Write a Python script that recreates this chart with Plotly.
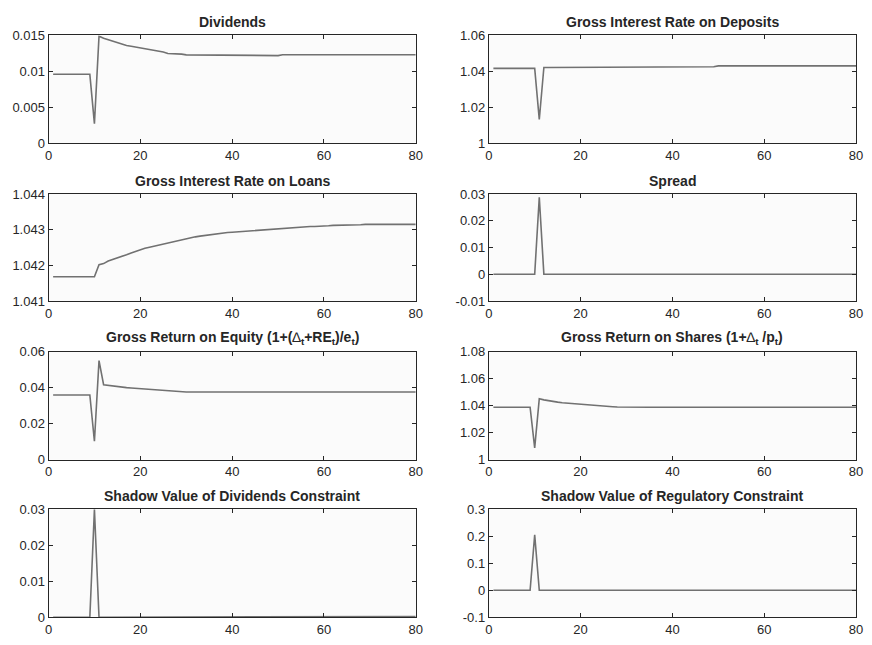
import plotly.graph_objects as go

t = list(range(1, 81))

dividends = ([0.0096] * 9 + [0.00275, 0.0149, 0.0146, 0.0144, 0.0142, 0.0140, 0.0137, 0.0136,
             0.0135, 0.0134, 0.0133, 0.0132, 0.0130, 0.0129, 0.0128, 0.0127, 0.0125, 0.0125,
             0.0124, 0.0124, 0.0123, 0.0123, 0.0122] + [0.0122] * 18 + [0.01232] * 30)

deposits = [1.0417] * 10 + [1.0133] + [1.0422] * 10 + [1.0426] * 28 + [1.0431] * 31

loans = ([1.04168] * 10 +
         [1.04202, 1.04205, 1.04212, 1.04216, 1.04221, 1.04226, 1.04230, 1.04235, 1.04240, 1.04244,
          1.04248, 1.04251, 1.04254, 1.04257, 1.04261, 1.04264, 1.04267, 1.04270, 1.04272, 1.04275,
          1.04277, 1.04280, 1.04282, 1.04284, 1.04286, 1.04288, 1.04290, 1.04291, 1.04292, 1.04293,
          1.04294, 1.04295, 1.04296, 1.04297, 1.04298, 1.04299, 1.04300, 1.04302, 1.04303, 1.04304,
          1.04305, 1.04305, 1.04306, 1.04307, 1.04307, 1.04308, 1.04309, 1.04309, 1.04309, 1.04310,
          1.04311, 1.04312, 1.04312, 1.04313, 1.04313, 1.04313, 1.04314, 1.04314, 1.04315]
         + [1.04315] * 11)

spread = [0.0] * 10 + [0.0288] + [0.0] * 69

equity = ([0.0359] * 9 +
          [0.0102, 0.0550, 0.0416, 0.0412, 0.0410, 0.0407, 0.0403, 0.0400, 0.0398, 0.0396, 0.0393,
           0.0391, 0.0390, 0.0388, 0.0386, 0.0384, 0.0382, 0.0380, 0.0379, 0.0378]
          + [0.0376] * 51)

shares = ([1.0388] * 9 +
          [1.0087, 1.0451, 1.0443, 1.0436, 1.0429, 1.0426, 1.0422, 1.0419, 1.0416, 1.0413, 1.0410,
           1.0406, 1.0402, 1.0401, 1.0399, 1.0396, 1.0394, 1.0392, 1.0390, 1.0389]
          + [1.0388] * 51)

shadow_div = [0.0] * 9 + [0.030] + [0.0] * 21 + [0.0002] * 49

shadow_reg = [0.0] * 9 + [0.205] + [0.0] * 70

titles = ["Dividends", "Gross Interest Rate on Deposits",
          "Gross Interest Rate on Loans", "Spread",
          "Gross Return on Equity (1+(<span style='font-weight:normal'>∆</span><sub>t</sub>+RE<sub>t</sub>)/e<sub>t</sub>)",
          "Gross Return on Shares (1+<span style='font-weight:normal'>∆</span><sub>t</sub> /p<sub>t</sub>)",
          "Shadow Value of Dividends Constraint", "Shadow Value of Regulatory Constraint"]
series = [dividends, deposits, loans, spread, equity, shares, shadow_div, shadow_reg]
y_ranges = [[0, 0.015], [1, 1.06], [1.041, 1.044], [-0.01, 0.03],
            [0, 0.06], [1, 1.08], [0, 0.03], [-0.1, 0.3]]
y_ticks = [[0, 0.005, 0.01, 0.015], [1, 1.02, 1.04, 1.06], [1.041, 1.042, 1.043, 1.044],
           [-0.01, 0, 0.01, 0.02, 0.03], [0, 0.02, 0.04, 0.06], [1, 1.02, 1.04, 1.06, 1.08],
           [0, 0.01, 0.02, 0.03], [-0.1, 0, 0.1, 0.2, 0.3]]
y_ticktext = [["0", "0.005", "0.01", "0.015"], ["1", "1.02", "1.04", "1.06"],
              ["1.041", "1.042", "1.043", "1.044"], ["-0.01", "0", "0.01", "0.02", "0.03"],
              ["0", "0.02", "0.04", "0.06"], ["1", "1.02", "1.04", "1.06", "1.08"],
              ["0", "0.01", "0.02", "0.03"], ["-0.1", "0", "0.1", "0.2", "0.3"]]
x_ticks = [0, 20, 40, 60, 80]

# page has an 8px body margin, so the figure is drawn 16px smaller and offset by 8px
OFF = 8
W, H = 872 - 2 * OFF, 645 - 2 * OFF
col_px = [(45, 417), (491, 863)]
row_px = [(29, 140), (192, 302), (354, 465), (516, 627)]

fig = go.Figure()
axcol = "#262626"
font_family = "Liberation Sans, Arial, Helvetica, sans-serif"

for i in range(8):
    r, c = divmod(i, 2)
    n = i + 1
    xa = "x" if n == 1 else f"x{n}"
    ya = "y" if n == 1 else f"y{n}"
    fig.add_trace(go.Scatter(x=t, y=series[i], mode="lines",
                             line=dict(color="#717171", width=1.6),
                             xaxis=xa, yaxis=ya, showlegend=False))
    x0, x1 = col_px[c]
    y0, y1 = row_px[r]
    xdom = [(x0 - OFF) / W, (x1 - OFF) / W]
    ydom = [1 - (y1 - OFF) / H, 1 - (y0 - OFF) / H]
    common = dict(showline=True, linecolor=axcol, linewidth=1, mirror="ticks",
                  ticks="inside", ticklen=4, tickwidth=1, tickcolor=axcol,
                  showgrid=False, zeroline=False,
                  tickfont=dict(size=13, color=axcol, family=font_family))
    fig.layout[f"xaxis{'' if n == 1 else n}"] = dict(
        domain=xdom, range=[0, 80], tickvals=x_ticks, ticktext=[str(v) for v in x_ticks],
        anchor=ya, **common)
    fig.layout[f"yaxis{'' if n == 1 else n}"] = dict(
        domain=ydom, range=y_ranges[i], tickvals=y_ticks[i], ticktext=y_ticktext[i],
        anchor=xa, **common)
    fig.add_annotation(text=f"<b>{titles[i]}</b>", x=(xdom[0] + xdom[1]) / 2, y=ydom[1],
                       xref="paper", yref="paper", xanchor="center", yanchor="bottom",
                       yshift=3, showarrow=False,
                       font=dict(size=14, color=axcol, family=font_family))
    fig.add_shape(type="rect", xref=f"{xa} domain", yref=f"{ya} domain",
                  x0=0, x1=1, y0=0, y1=1, fillcolor="#fbfbfb", line=dict(width=0),
                  layer="below")

fig.update_layout(width=W, height=H, margin=dict(l=0, r=0, t=0, b=0),
                  paper_bgcolor="white", plot_bgcolor="white",
                  font=dict(family=font_family))

fig.write_html("out.html")
